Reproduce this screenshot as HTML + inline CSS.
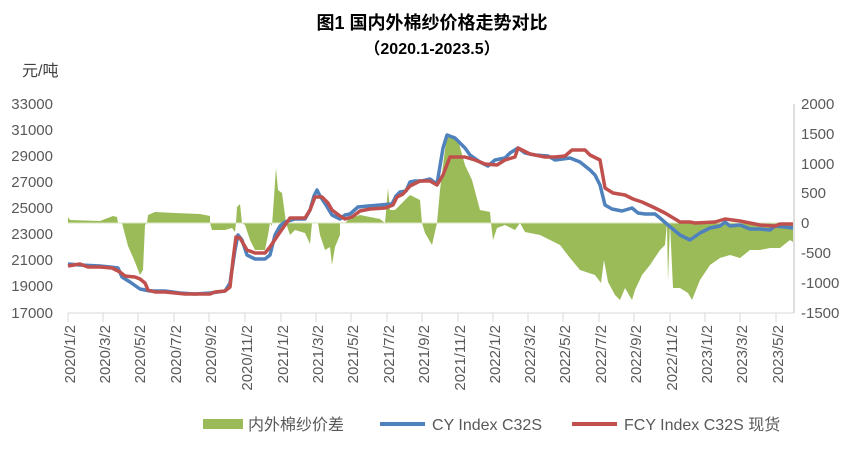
<!DOCTYPE html><html><head><meta charset="utf-8"><style>body{margin:0;background:#fff}svg{display:block}text{font-family:"Liberation Sans","Noto Sans CJK SC",sans-serif}</style></head><body>
<svg width="865" height="452" viewBox="0 0 865 452">
<text x="432" y="29" text-anchor="middle" font-size="18" font-weight="bold" fill="#000" font-family="'Liberation Serif','Noto Serif CJK SC',serif">图1  国内外棉纱价格走势对比</text>
<text x="432" y="54" text-anchor="middle" font-size="16" font-weight="bold" fill="#000">（2020.1-2023.5）</text>
<text x="22" y="76" font-size="16" fill="#404040">元/吨</text>
<g font-size="15" fill="#595959" text-anchor="end">
<text x="53" y="109">33000</text><text x="53" y="135">31000</text><text x="53" y="161">29000</text><text x="53" y="187">27000</text><text x="53" y="213">25000</text><text x="53" y="239">23000</text><text x="53" y="265">21000</text><text x="53" y="291">19000</text><text x="53" y="318">17000</text>
</g>
<g font-size="15" fill="#595959">
<text x="801" y="109">2000</text><text x="801" y="139">1500</text><text x="801" y="169">1000</text><text x="801" y="198">500</text><text x="801" y="228">0</text><text x="801" y="258">-500</text><text x="801" y="288">-1000</text><text x="801" y="318">-1500</text>
</g>
<line x1="794" y1="104" x2="794" y2="313" stroke="#bfbfbf"/>
<line x1="68" y1="313" x2="794" y2="313" stroke="#d9d9d9"/>
<g stroke="#d9d9d9">
<line x1="68" y1="313" x2="68" y2="322"/><line x1="103" y1="313" x2="103" y2="322"/><line x1="138" y1="313" x2="138" y2="322"/><line x1="174" y1="313" x2="174" y2="322"/><line x1="209" y1="313" x2="209" y2="322"/><line x1="245" y1="313" x2="245" y2="322"/><line x1="281" y1="313" x2="281" y2="322"/><line x1="316" y1="313" x2="316" y2="322"/><line x1="351" y1="313" x2="351" y2="322"/><line x1="387" y1="313" x2="387" y2="322"/><line x1="422" y1="313" x2="422" y2="322"/><line x1="458" y1="313" x2="458" y2="322"/><line x1="493" y1="313" x2="493" y2="322"/><line x1="528" y1="313" x2="528" y2="322"/><line x1="563" y1="313" x2="563" y2="322"/><line x1="599" y1="313" x2="599" y2="322"/><line x1="634" y1="313" x2="634" y2="322"/><line x1="670" y1="313" x2="670" y2="322"/><line x1="705" y1="313" x2="705" y2="322"/><line x1="740" y1="313" x2="740" y2="322"/><line x1="776" y1="313" x2="776" y2="322"/>
</g>
<g font-size="15" fill="#595959" text-anchor="end">
<text transform="translate(75,325) rotate(-90)">2020/1/2</text><text transform="translate(110,325) rotate(-90)">2020/3/2</text><text transform="translate(145,325) rotate(-90)">2020/5/2</text><text transform="translate(181,325) rotate(-90)">2020/7/2</text><text transform="translate(216,325) rotate(-90)">2020/9/2</text><text transform="translate(252,325) rotate(-90)">2020/11/2</text><text transform="translate(288,325) rotate(-90)">2021/1/2</text><text transform="translate(323,325) rotate(-90)">2021/3/2</text><text transform="translate(358,325) rotate(-90)">2021/5/2</text><text transform="translate(394,325) rotate(-90)">2021/7/2</text><text transform="translate(429,325) rotate(-90)">2021/9/2</text><text transform="translate(465,325) rotate(-90)">2021/11/2</text><text transform="translate(500,325) rotate(-90)">2022/1/2</text><text transform="translate(535,325) rotate(-90)">2022/3/2</text><text transform="translate(570,325) rotate(-90)">2022/5/2</text><text transform="translate(606,325) rotate(-90)">2022/7/2</text><text transform="translate(641,325) rotate(-90)">2022/9/2</text><text transform="translate(677,325) rotate(-90)">2022/11/2</text><text transform="translate(712,325) rotate(-90)">2023/1/2</text><text transform="translate(747,325) rotate(-90)">2023/3/2</text><text transform="translate(783,325) rotate(-90)">2023/5/2</text>
</g>
<path fill="#9bbb59" d="M68,223 L68,217 70,220 100,221 105,219 113,216 117,217 118,223 122,223 128,246 135,262 140,275 143,270 145,225 147,223 148,215 155,212 175,213 200,214 210,216 210,223 212,230 225,230 232,228 235,232 236,223 237,207 240,204 242,223 245,225 250,240 255,250 265,250 268,235 270,223 272,226 276,168 278,190 282,193 285,215 286,223 290,235 295,230 305,233 310,244 312,223 318,223 320,235 325,250 330,247 332,265 335,247 340,235 340,223 345,223 350,218 360,215 380,219 385,223 388,188 390,210 395,210 400,205 410,195 420,200 422,223 425,233 432,245 437,223 440,190 447,133 458,140 465,165 472,180 480,210 490,212 491,223 493,240 497,228 505,225 515,230 520,223 525,232 540,235 560,245 570,258 580,270 595,275 601,283 604,260 608,282 615,295 620,300 625,288 632,300 635,290 642,275 650,265 660,250 665,245 667,223 668,282 670,223 673,288 680,288 688,293 692,300 700,280 710,265 720,258 730,255 740,258 750,250 760,250 770,248 780,248 790,240 793,242 793,223 Z"/>
<line x1="68" y1="223" x2="793" y2="223" stroke="#d9e4c0" stroke-width="1"/>
<polyline fill="none" stroke="#4f81bd" stroke-width="3.5" stroke-linejoin="round" points="68,264 80,265 100,266 110,267 118,268 122,277 130,282 140,289 145,290 150,291 165,291 180,293 195,294 210,293 225,291 230,283 235,250 238,235 242,240 247,255 255,259 265,259 270,255 275,235 280,226 285,222 295,219 305,219 310,210 314,196 317,190 320,196 326,205 332,215 340,219 345,215 350,214 358,207 368,206 380,205 392,204 396,196 400,192 406,191 410,182 415,181 422,181 430,179 437,184 443,148 447,135 455,138 465,148 470,155 480,162 488,166 495,160 505,158 510,153 518,148 525,153 535,155 548,156 555,160 570,158 580,162 590,170 595,175 600,185 605,205 612,209 622,211 632,208 638,213 645,214 655,214 660,218 668,225 680,235 690,240 700,233 710,228 720,226 725,222 730,226 740,225 750,229 760,229 770,230 775,226 785,227 793,228"/>
<polyline fill="none" stroke="#c0504d" stroke-width="3.5" stroke-linejoin="round" points="68,266 80,264 88,267 100,267 112,268 120,272 125,276 135,277 140,279 145,283 148,290 155,292 165,292 185,294 210,294 215,292 225,291 230,287 233,260 236,237 240,238 247,250 255,253 265,253 270,247 278,235 285,225 290,218 305,218 310,210 315,197 322,197 328,203 332,210 340,216 345,219 352,217 360,211 370,209 385,208 393,205 397,197 403,194 410,186 420,181 430,181 437,185 443,175 450,157 465,157 475,160 485,164 497,165 505,160 515,157 518,148 530,154 545,157 555,157 565,156 572,150 585,150 590,155 600,160 605,188 613,193 625,195 633,199 642,202 655,208 665,213 680,222 690,222 695,223 715,222 725,219 740,221 760,225 775,226 780,224 793,224"/>
<rect x="203" y="419" width="40" height="10" fill="#9bbb59"/>
<text x="248" y="430" font-size="16" fill="#595959">内外棉纱价差</text>
<line x1="380" y1="424" x2="425" y2="424" stroke="#4f81bd" stroke-width="4"/>
<text x="432" y="430" font-size="16" fill="#595959">CY Index C32S</text>
<line x1="572" y1="424" x2="617" y2="424" stroke="#c0504d" stroke-width="4"/>
<text x="624" y="430" font-size="16" fill="#595959">FCY Index C32S 现货</text>
</svg></body></html>
